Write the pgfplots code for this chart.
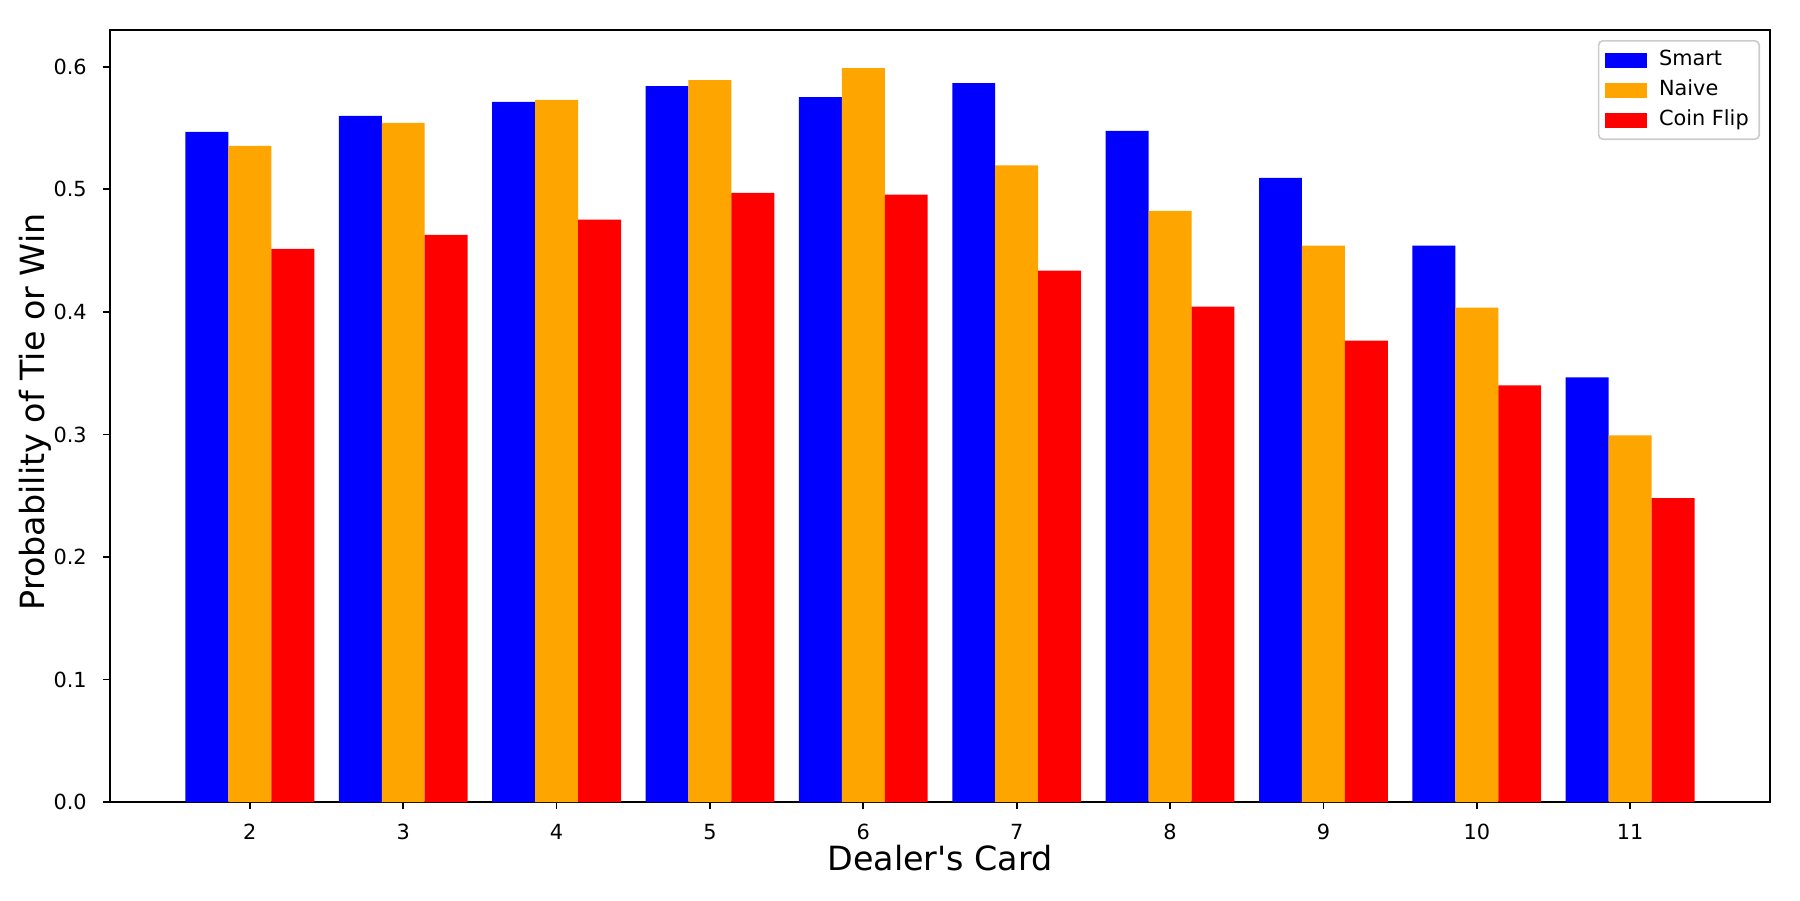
\documentclass[border=0pt]{standalone}
\usepackage{fontspec}
\setmainfont{DejaVu Sans}
\usepackage{pgfplots}
\pgfplotsset{compat=1.18}
\definecolor{mplorange}{RGB}{255,165,0}
\begin{document}
\begin{tikzpicture}
\useasboundingbox (0,0) rectangle (864pt,432pt);
\begin{axis}[
  at={(52.8pt,47pt)}, anchor=south west,
  width=796.8pt, height=370.6pt, scale only axis,
  xmin=1.088, xmax=11.912, ymin=0, ymax=0.63,
  axis line style={black, line width=0.8pt},
  xtick={2,3,4,5,6,7,8,9,10,11},
  ytick={0,0.1,0.2,0.3,0.4,0.5,0.6},
  xtick pos=left, ytick pos=left,
  tick align=outside,
  major tick length=3.5pt,
  tick style={black, line width=0.8pt},
  /pgf/number format/assume math mode=true,
  ticklabel style={font=\fontsize{10}{12}\selectfont},
  xticklabel style={inner sep=0pt, anchor=north, yshift=-7pt},
  yticklabel style={/pgf/number format/fixed, /pgf/number format/fixed zerofill, /pgf/number format/precision=1, inner sep=0pt, anchor=east, xshift=-7.5pt},
  xlabel={Dealer\textquotesingle s Card},
  ylabel={Probability of Tie or Win},
  every axis x label/.style={at={(axis description cs:0.5,0)}, anchor=base, yshift=-33pt, font=\fontsize{16}{19}\selectfont},
  every axis y label/.style={at={(axis description cs:0,0.5)}, xshift=-35.8pt, yshift=2pt, anchor=center, rotate=90, font=\fontsize{16}{19}\selectfont},
  legend style={at={(1,1)}, anchor=north east, xshift=-4.8pt, yshift=-4.8pt,
    draw=black!20, line width=0.8pt, rounded corners=2pt, fill=white, fill opacity=0.8, text opacity=1,
    font=\fontsize{10}{12}\selectfont, inner xsep=3pt, inner ysep=2pt,
    nodes={text height=7.4pt, text depth=2.4pt, inner ysep=2.3pt, inner xsep=2pt},
    /tikz/every odd column/.append style={column sep=4pt},
    row sep=0pt},
  legend cell align=left,
  legend image code/.code={\fill[#1, sharp corners, fill opacity=1] (0pt,-3.6pt) rectangle (20pt,3.6pt);},
]
\addplot[ybar, bar width=0.28, bar shift=-0.28, draw=none, fill=blue] coordinates {
(2,0.5468) (3,0.5599) (4,0.5713) (5,0.5843) (6,0.5753) (7,0.5867) (8,0.5476) (9,0.5094) (10,0.4540) (11,0.3465)};
\addlegendentry{Smart}
\addplot[ybar, bar width=0.28, bar shift=0, draw=none, fill=mplorange] coordinates {
(2,0.5354) (3,0.5542) (4,0.5729) (5,0.5892) (6,0.5989) (7,0.5195) (8,0.4825) (9,0.4540) (10,0.4035) (11,0.2993)};
\addlegendentry{Naive}
\addplot[ybar, bar width=0.28, bar shift=0.28, draw=none, fill=red] coordinates {
(2,0.4515) (3,0.4629) (4,0.4752) (5,0.4972) (6,0.4956) (7,0.4336) (8,0.4043) (9,0.3766) (10,0.3400) (11,0.2480)};
\addlegendentry{Coin Flip}
\end{axis}
\end{tikzpicture}
\end{document}
